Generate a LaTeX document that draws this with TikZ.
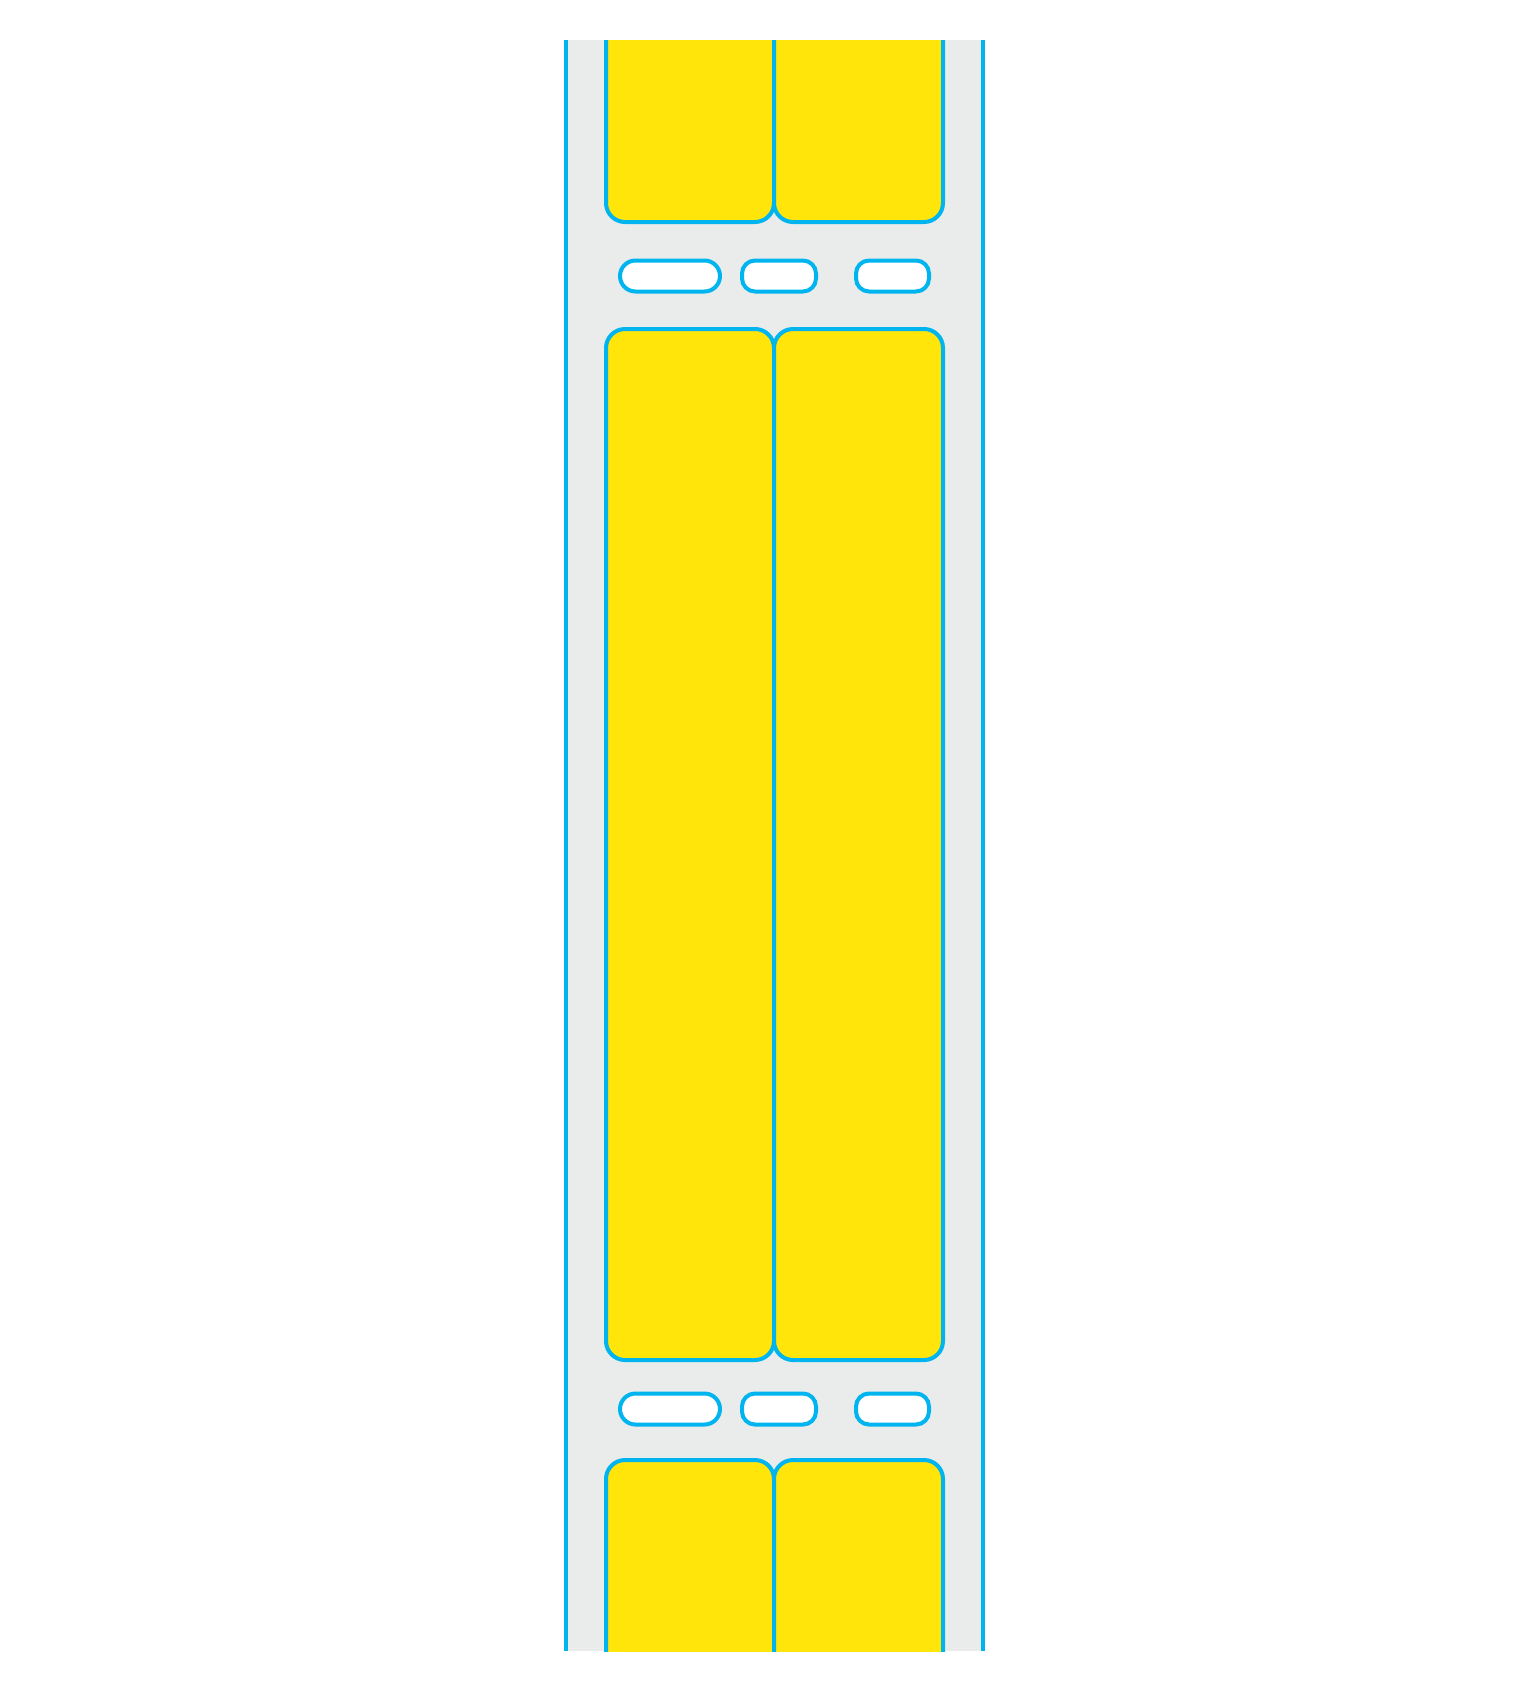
\documentclass[tikz,border=0pt]{standalone}
\definecolor{lblue}{HTML}{00B4F0}
\definecolor{lyel}{HTML}{FFE509}
\definecolor{lgray}{HTML}{EAECEB}
\begin{document}
\begin{tikzpicture}[x=1pt,y=-1pt,
  label/.style={fill=lyel,draw=lblue,line width=4pt,rounded corners=19pt},
  hole/.style={fill=white,draw=lblue,line width=4pt},
  edge/.style={draw=lblue,line width=4pt}]
\useasboundingbox[fill=white] (0,0) rectangle (1540,1690);
\fill[lgray] (566,40) rectangle (983,1651);
\begin{scope}
\clip (566,40) rectangle (983,1651);
% top labels
\path[label] (606,-30) rectangle (774,222);
\path[label] (774,-30) rectangle (943,222);
% middle labels
\path[label] (606,329) rectangle (774,1360);
\path[label] (774,329) rectangle (943,1360);
% bottom labels
\path[label] (606,1460) rectangle (774,1720);
\path[label] (774,1460) rectangle (943,1720);
% holes row 1
\path[hole,rounded corners=15.5pt] (620,260.5) rectangle (720,291.5);
\path[hole,rounded corners=13pt] (742,260.5) rectangle (816,291.5);
\path[hole,rounded corners=13pt] (856,260.5) rectangle (929,291.5);
% holes row 2
\path[hole,rounded corners=15.5pt] (620,1393.5) rectangle (720,1424.5);
\path[hole,rounded corners=13pt] (742,1393.5) rectangle (816,1424.5);
\path[hole,rounded corners=13pt] (856,1393.5) rectangle (929,1424.5);
\end{scope}
\draw[edge] (566,40) -- (566,1651);
\draw[edge] (983,40) -- (983,1651);
\end{tikzpicture}
\end{document}
